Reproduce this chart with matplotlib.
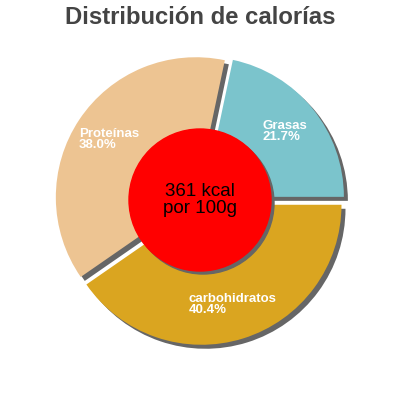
import matplotlib
matplotlib.use('Agg')
import matplotlib.pyplot as plt
from matplotlib.patches import Circle
import numpy as np

plt.rcParams['font.family'] = ['Liberation Sans', 'DejaVu Sans']

# data
labels = ['Grasas', 'carbohidratos', 'Proteínas']
percents = [21.7, 40.4, 38.0]
colors = ['#7BC4CC', '#DAA520', '#EDC492']
kcal = 361
title = 'Distribución de calorías'

cx, cy = 200, 200      # pie centre in pixels
R = 140                # radius
gap = 5                # explode offset
shadow = '#666666'

fig = plt.figure(figsize=(4, 4), dpi=100)
ax = fig.add_axes([0, 0, 1, 1])

start = 360 * percents[0] / sum(percents)
explode = [gap] * len(percents)

# shadows first
ax.pie(percents, colors=[shadow] * len(percents), radius=R, center=(cx + 4, cy - 4),
       explode=explode, startangle=start, counterclock=False, frame=False)
wedges, _ = ax.pie(percents, colors=colors, radius=R, center=(cx, cy),
                   explode=explode, startangle=start, counterclock=False, frame=False)

for w, lab, p in zip(wedges, labels, percents):
    th = np.deg2rad((w.theta1 + w.theta2) / 2)
    x = cx + 0.78 * R * np.cos(th)
    y = cy + 0.78 * R * np.sin(th)
    ax.text(x, y, f'{lab}\n{p:.1f}%', ha='center', va='center', multialignment='left',
            color='white', fontsize=9.5, fontweight='bold', linespacing=0.85)

ax.add_patch(Circle((cx + 3, cy - 3), 71, color=shadow, zorder=3))
ax.add_patch(Circle((cx, cy), 71, color='#FF0000', zorder=4))
ax.text(cx, cy, f'{kcal} kcal\npor 100g', ha='center', va='center', fontsize=13.5,
        color='black', zorder=5, linespacing=1.0)

ax.text(200, 382, title, ha='center', va='center', fontsize=17.2, fontweight='bold',
        color='#444444')

ax.set_xlim(0, 400)
ax.set_ylim(0, 400)
ax.set_aspect('equal')
ax.axis('off')

fig.savefig('out.png', dpi=100)
